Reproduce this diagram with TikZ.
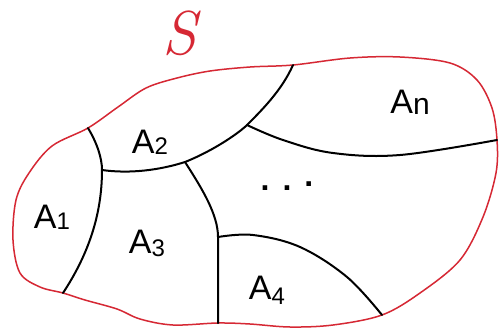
\documentclass[tikz,border=0pt]{standalone}
\usepackage{fontspec}
\setmainfont{Liberation Sans}
\newfontfamily\handS{Latin Modern Roman}
\begin{document}
\begin{tikzpicture}[x=1pt,y=-1pt,
  outline/.style={draw={rgb,255:red,214;green,40;blue,52},line width=1.5pt},
  divider/.style={draw=black,line width=2pt,line cap=round},
  lab/.style={font=\fontsize{34}{36}\selectfont,text=black,inner sep=0pt}]
\useasboundingbox (0,0) rectangle (501,333);
\fill[white] (0,0) rectangle (501,333);
% junction points
\coordinate (p1) at (88,128);
\coordinate (q1) at (63,293);
\coordinate (j1) at (102,170);
\coordinate (j2) at (185,162);
\coordinate (j3) at (247,125);
\coordinate (t2) at (293,65);
\coordinate (r1) at (497,140);
\coordinate (j4) at (218,237);
\coordinate (b3) at (218,323);
\coordinate (b4) at (382,315);
% outline of S
\draw[outline] plot[smooth cycle,tension=0.55] coordinates {
 (p1) (118,107) (146,88) (177,78) (210,71) (250,67) (t2)
 (350,58) (400,57) (450,63) (477,80) (492,108) (r1) (496,173) (483,217)
 (460,260) (420,293) (b4) (333,325) (290,327) (250,324) (b3) (173,325)
 (140,319) (117,309) (85,300) (q1) (40,287) (20,273) (13,240) (16,200)
 (29,173) (52,146)};
% dividers
\draw[divider] (p1) .. controls (97,143) and (102,158) .. (j1)
  .. controls (102,215) and (88,255) .. (q1);
\draw[divider] (j1) .. controls (130,174) and (160,170) .. (j2);
\draw[divider] (j2) .. controls (215,150) and (240,132) .. (j3)
  .. controls (262,110) and (282,90) .. (t2);
\draw[divider] plot[smooth,tension=0.6] coordinates {(j3) (283,140) (333,153) (400,155) (r1)};
\draw[divider] (j2) .. controls (203,190) and (218,215) .. (j4)
  .. controls (218,262) and (218,295) .. (b3);
\draw[divider] plot[smooth,tension=0.6] coordinates {(j4) (253,235) (300,247) (347,277) (b4)};
% labels
\node[font=\handS\itshape\fontsize{62}{64}\selectfont,text={rgb,255:red,214;green,40;blue,52},inner sep=0pt] (S) at (180,33) {S};
\node[lab] (A1) at (52,217) {A\raisebox{-1pt}{\fontsize{24}{24}\selectfont 1}};
\node[lab] (A2) at (150,142) {A\raisebox{-1pt}{\fontsize{24}{24}\selectfont 2}};
\node[lab] (A3) at (147,243) {A\raisebox{-3pt}{\fontsize{24}{24}\selectfont 3}};
\node[lab] (A4) at (267,290) {A\raisebox{-5pt}{\fontsize{24}{24}\selectfont 4}};
\node[lab] (An) at (410,102) {A\raisebox{-1pt}{\fontsize{30}{30}\selectfont n}};
\node[font=\bfseries\fontsize{32}{32}\selectfont,inner sep=0pt] (dots) at (287,186) {.\hspace{13pt}.\hspace{13pt}\raisebox{4pt}{.}};
\end{tikzpicture}
\end{document}
